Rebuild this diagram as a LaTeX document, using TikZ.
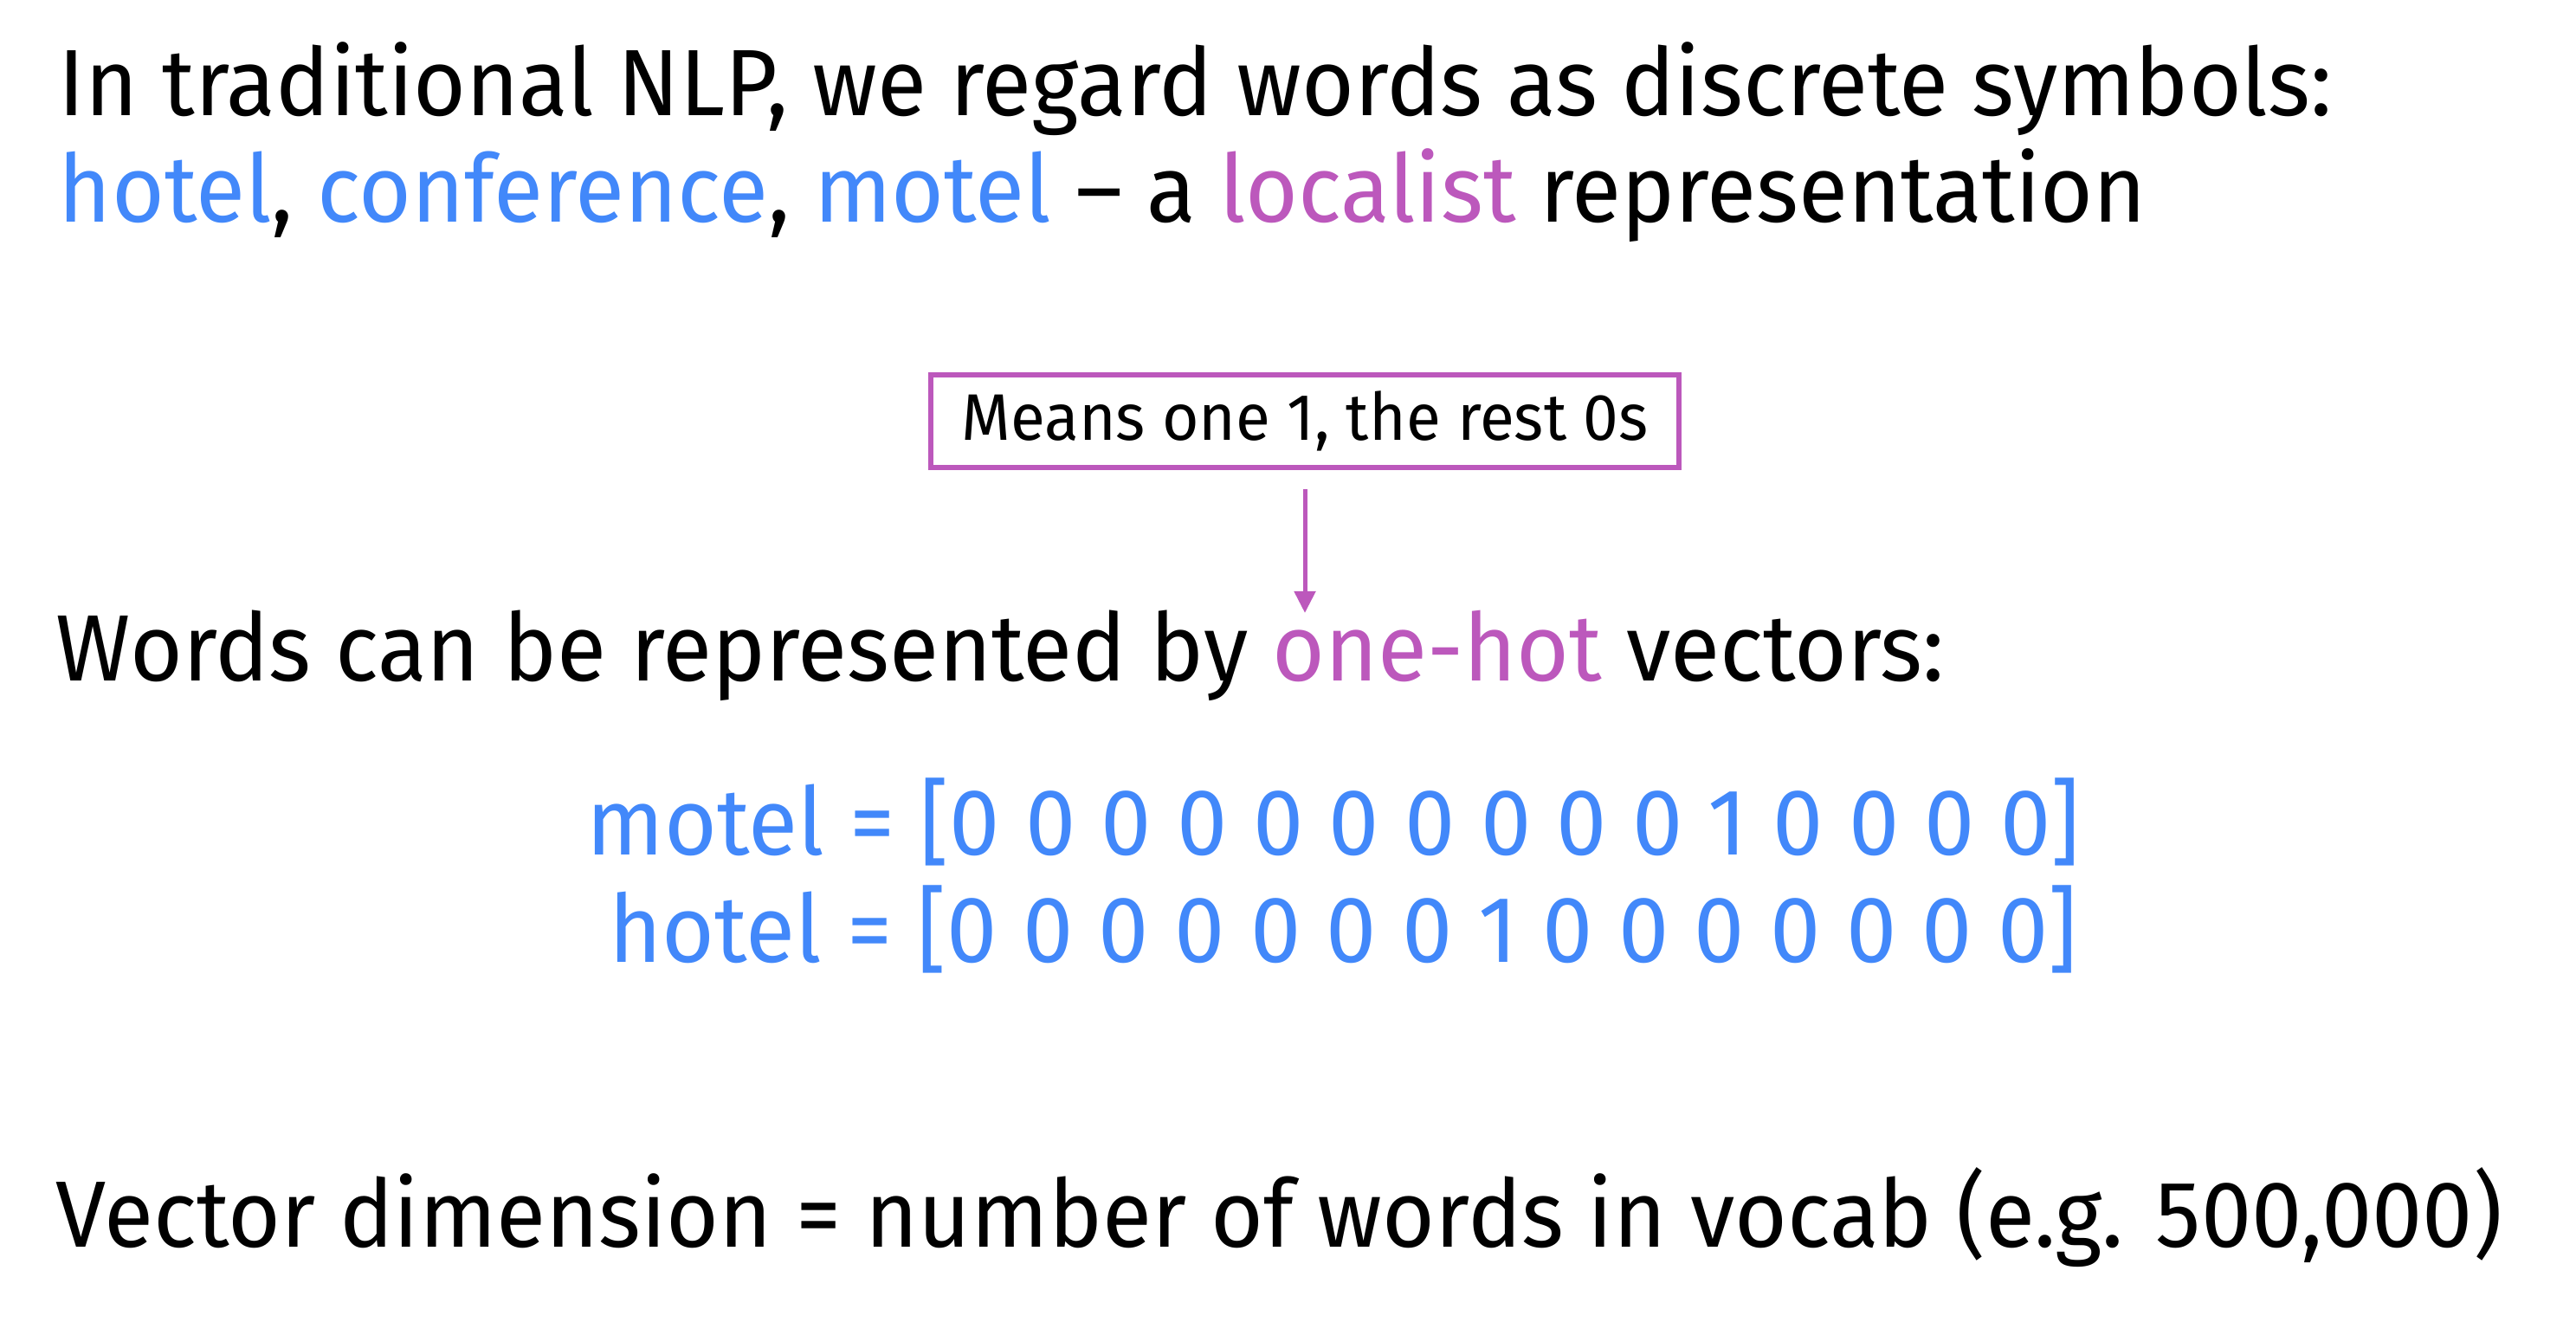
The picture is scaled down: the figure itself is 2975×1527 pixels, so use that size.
\documentclass[tikz,border=0pt]{standalone}
\usepackage{fontspec}
\setmainfont[FakeStretch=0.96]{Fira Sans}
\usepackage{tikz}
\usetikzlibrary{arrows.meta,positioning}
\definecolor{wordblue}{RGB}{66,136,250}
\definecolor{hotpurple}{RGB}{188,88,188}

\begin{document}
\begin{tikzpicture}[x=0.25pt,y=-0.25pt]
            \tikzstyle{line}=[font=\fontsize{27.2}{32}\selectfont, inner sep=0pt, anchor=base west]
            \tikzstyle{vec}=[line, execute at begin node={\spaceskip=1.06\fontdimen2\font\relax}, text=wordblue, anchor=base east]
            \tikzstyle{note}=[draw=hotpurple, line width=1.5pt, font=\fontsize{19}{23}\selectfont, minimum width=216pt, minimum height=26.75pt, inner sep=0pt]
            \useasboundingbox (0,0) rectangle (2975,1527);
            \node[line] (symbols) at (67,134) {In traditional NLP, we regard words as discrete symbols:};
            \node[line] (localist) at (67,257) {\textcolor{wordblue}{hotel}, \textcolor{wordblue}{conference}, \textcolor{wordblue}{motel} \textendash{} a \textcolor{hotpurple}{localist} representation};
            \node[note] (means) at (1507,486.5) {Means one 1, the rest 0s};
            \node[line] (onehot) at (64,787) {Words can be represented by \textcolor{hotpurple}{one-hot} vectors:};
            \coordinate (hottop) at (1507,708);
            \draw[hotpurple, line width=1.25pt, -{Triangle[width=6pt,length=6.25pt]}] ([yshift=-5.5pt]means.south) -- (hottop);
            \node[vec] (motel) at (2403,988) {motel = [0 0 0 0 0 0 0 0 0 0 1 0 0 0 0]};
            \node[vec] (hotel) at (2400,1111) {hotel = [0 0 0 0 0 0 0 1 0 0 0 0 0 0 0]};
            \node[line] (dimension) at (64,1440) {Vector dimension = number of words in vocab (e.g. 500,000)};
        \end{tikzpicture}
\end{document}
